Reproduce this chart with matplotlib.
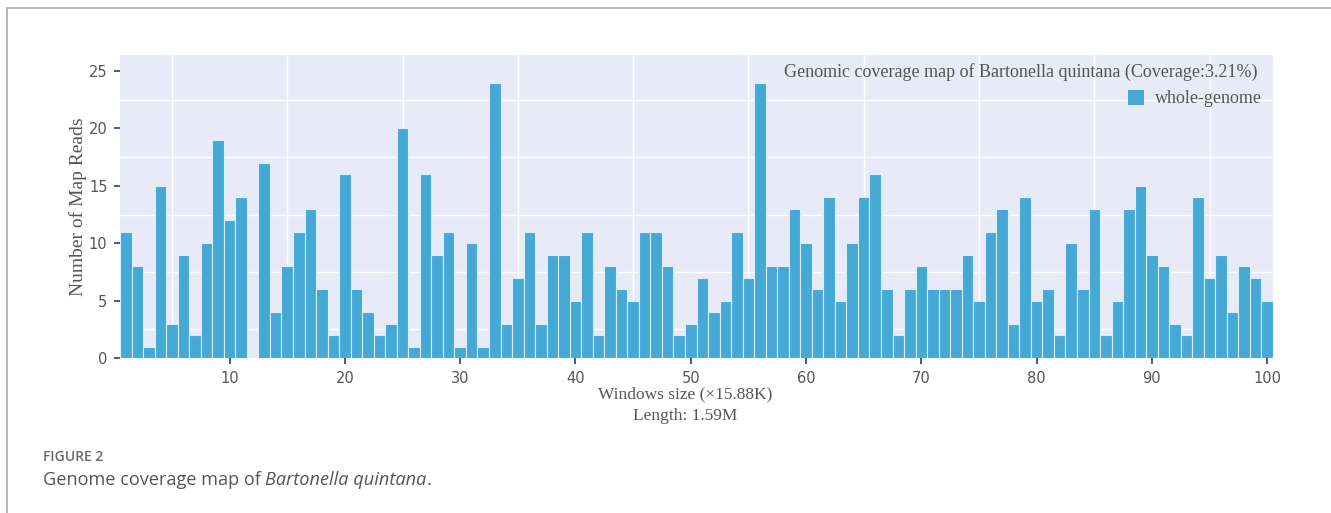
import matplotlib.pyplot as plt
from matplotlib.lines import Line2D
from matplotlib.patches import Patch
import numpy as np

windows = np.arange(1, 101)
reads = [11, 8, 1, 15, 3, 9, 2, 10, 19, 12,
         14, 0, 17, 4, 8, 11, 13, 6, 2, 16,
         6, 4, 2, 3, 20, 1, 16, 9, 11, 1,
         10, 1, 24, 3, 7, 11, 3, 9, 9, 5,
         11, 2, 8, 6, 5, 11, 11, 8, 2, 3,
         7, 4, 5, 11, 7, 24, 8, 8, 13, 10,
         6, 14, 5, 10, 14, 16, 6, 2, 6, 8,
         6, 6, 6, 9, 5, 11, 13, 3, 14, 5,
         6, 2, 10, 6, 13, 2, 5, 13, 15, 9,
         8, 3, 2, 14, 7, 9, 4, 8, 7, 5]
xticks = [10, 20, 30, 40, 50, 60, 70, 80, 90, 100]
yticks = [0, 5, 10, 15, 20, 25]

bar_color = '#45a9d6'
serif = 'Liberation Serif'

fig = plt.figure(figsize=(13.31, 5.13), dpi=100)
ax = fig.add_axes([0.0902, 0.3021, 0.8662, 0.5906])
ax.set_facecolor('#e8eaf7')

# grid lines sit halfway between ticks in the reference
for gx in np.arange(5, 100, 10):
    ax.axvline(gx, color='white', lw=1.0, zorder=0)
for gy in [2.5, 7.5, 12.5, 17.5, 22.5]:
    ax.axhline(gy, color='white', lw=1.0, zorder=0)

ax.bar(windows, reads, width=1.0, color=bar_color, edgecolor='#d8eef8', linewidth=0.8, zorder=2)

ax.set_xlim(0.5, 100.5)
ax.set_ylim(0, 26.4)
ax.set_xticks(xticks)
ax.set_yticks(yticks)
for s in ax.spines.values():
    s.set_visible(False)
ax.tick_params(axis='both', colors='#2a3f5f', length=4, width=1.2, labelsize=10.5,
               labelcolor='#555555', pad=5)

ax.set_ylabel('Number of Map Reads', family=serif, fontsize=14, color='#555555', labelpad=1)
ax.set_xlabel('Windows size (\u00d715.88K)\nLength: 1.59M', family=serif, fontsize=12.5,
              color='#555555', linespacing=1.5)
ax.xaxis.set_label_coords(0.49, -0.093, transform=ax.transAxes)
ax.xaxis.label.set_va('top')

ax.text(0.987, 0.945, 'Genomic coverage map of Bartonella quintana (Coverage:3.21%)',
        transform=ax.transAxes, ha='right', va='center', family=serif, fontsize=13,
        color='#555555')
leg = ax.legend(handles=[Patch(facecolor=bar_color, edgecolor='none', label='whole-genome')],
                loc='upper right', bbox_to_anchor=(0.997, 0.91), frameon=False,
                prop={'family': serif, 'size': 13}, handlelength=0.9, handleheight=0.9,
                handletextpad=0.6, borderaxespad=0)
for t in leg.get_texts():
    t.set_color('#555555')

# page frame lines
fig.add_artist(Line2D([0.005, 1.0], [0.984, 0.984], color='#aaaaaa', lw=1.2))
fig.add_artist(Line2D([0.005, 0.005], [0.0, 0.984], color='#aaaaaa', lw=1.2))

# caption
fig.text(0.032, 0.109, 'FIGURE 2', family='Open Sans', fontsize=10, weight='semibold',
         color='#6a6a6a', va='center')
t1 = fig.text(0.032, 0.064, 'Genome coverage map of ', family='Open Sans', fontsize=13.1,
              color='#555555', va='center')
t2 = fig.text(0, 0, 'Bartonella quintana', family='Open Sans', style='italic',
              fontsize=13.1, color='#555555', va='center')
t3 = fig.text(0, 0, '.', family='Open Sans', fontsize=13.1, color='#555555', va='center')
fig.canvas.draw()
r = fig.canvas.get_renderer()
inv = fig.transFigure.inverted()
x1 = inv.transform(t1.get_window_extent(r))[1][0]
t2.set_position((x1, 0.064))
x2 = inv.transform(t2.get_window_extent(r))[1][0]
t3.set_position((x2, 0.064))

fig.savefig('out.png', dpi=100)
